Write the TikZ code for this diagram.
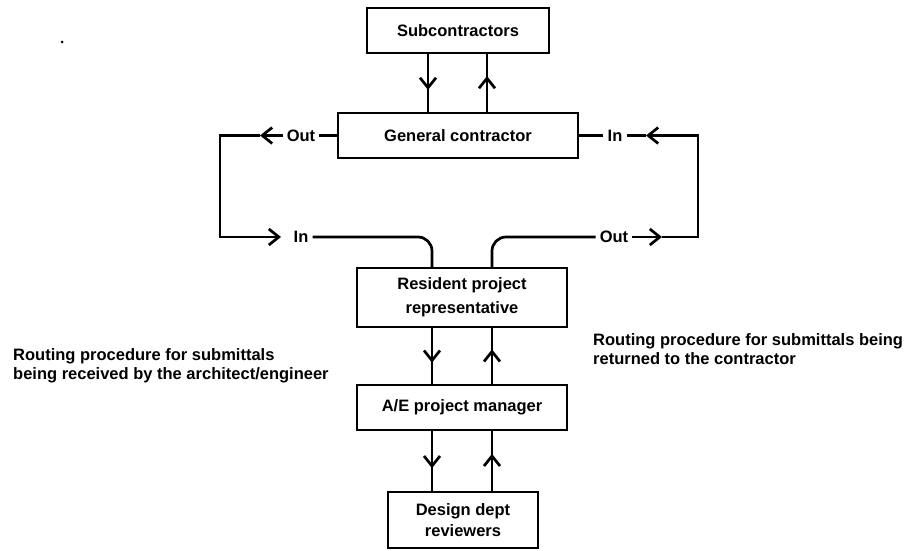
\documentclass[tikz,border=0pt]{standalone}
\usepackage{fontspec}
\setmainfont{Liberation Sans}
\usetikzlibrary{arrows.meta,decorations.markings}

\tikzset{
  box/.style={draw,line width=2.5pt,align=center,inner sep=0pt,font=\bfseries\fontsize{16.5}{21}\selectfont},
  lbl/.style={inner sep=4pt,font=\bfseries\fontsize{16.5}{19}\selectfont},
  wire/.style={line width=2.7pt},
  barb/.style={-{Straight Barb[length=10pt,width=16pt]}},
  midarr/.style={postaction={decorate},decoration={markings,
      mark=at position 0.62 with {\arrow{Straight Barb[length=10pt,width=16pt]}}}},
}

\begin{document}
\begin{tikzpicture}[x=1pt,y=-1pt]
        % page is 908 x 551, one unit = one pixel, y runs downwards
        \useasboundingbox (0,0) rectangle (908,551);

        % columns of the vertical connectors
        \coordinate (c1) at (428,0);
        \coordinate (c2) at (487,0);
        \coordinate (c3) at (432,0);
        \coordinate (c4) at (492,0);

        \node[box,minimum width=182pt,minimum height=45pt] (sub) at (458,30.5) {Subcontractors};
        \node[box,minimum width=240pt,minimum height=45pt] (gc) at (458,135.5) {General contractor};
        \node[box,minimum width=210pt,minimum height=59pt,
              font=\bfseries\fontsize{16.5}{24}\selectfont] (rpr) at (462,297.5) {Resident project\\representative};
        \node[box,minimum width=210pt,minimum height=45pt] (aem) at (462,407.5) {A/E project manager};
        \node[box,minimum width=150pt,minimum height=56pt] (ddr) at (463,520) {Design dept\\reviewers};

        \draw[wire,midarr] (sub.south -| c1) -- (gc.north -| c1);
        \draw[wire,midarr] (gc.north -| c2) -- (sub.south -| c2);
        \draw[wire,midarr] (rpr.south -| c3) -- (aem.north -| c3);
        \draw[wire,midarr] (aem.north -| c4) -- (rpr.south -| c4);
        \draw[wire,midarr] (aem.south -| c3) -- (ddr.north -| c3);
        \draw[wire,midarr] (ddr.north -| c4) -- (aem.south -| c4);

        % left loop: contractor -> resident
        \node[lbl] (outL) at (301,135.5) {Out};
        \node[lbl] (inL) at (301,237) {In};
        \coordinate (tl) at (220,135.5);
        \coordinate (bl) at (220,237);
        \coordinate (tipTL) at (260,135.5);
        \coordinate (tipBL) at (281,237);

        \draw[wire] (gc.west) -- (outL.east);
        \draw[wire,barb] (outL.west) -- (tipTL);
        \draw[wire,barb] (tipTL) -- (tl) -- (bl) -- (tipBL);
        \draw[wire,rounded corners=14pt] (inL.east) -- (inL.east -| c3) -- (rpr.north -| c3);

        % right loop: resident -> contractor
        \node[lbl] (inR) at (615,135.5) {In};
        \node[lbl] (outR) at (614,237) {Out};
        \coordinate (tr) at (698,135.5);
        \coordinate (br) at (698,237);
        \coordinate (tipTR) at (646,135.5);
        \coordinate (tipBR) at (662,237);

        \draw[wire,rounded corners=14pt] (rpr.north -| c4) -- (outR.west -| c4) -- (outR.west);
        \draw[wire,barb] (outR.east) -- (tipBR);
        \draw[wire,barb] (tipBR) -- (br) -- (tr) -- (tipTR);
        \draw[wire] (tipTR) -- (inR.east);
        \draw[wire] (inR.west) -- (gc.east);

        \node[lbl,anchor=west,align=left] (noteL) at (9,366)
          {Routing procedure for submittals\\being received by the architect/engineer};
        \node[lbl,anchor=west,align=left] (noteR) at (589,349)
          {Routing procedure for submittals being\\returned to the contractor};

        \fill (62,42) circle (1.5pt);
    \end{tikzpicture}
\end{document}
